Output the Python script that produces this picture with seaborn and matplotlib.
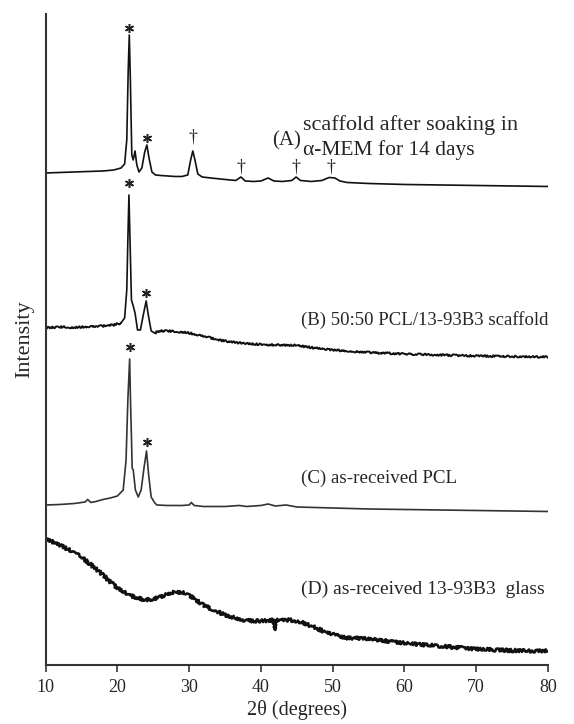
import matplotlib
matplotlib.use("Agg")
import matplotlib.pyplot as plt
import pandas as pd
import seaborn as sns

# XRD patterns, intensities in arbitrary units (already offset for stacking)
two_theta_a = [10, 12, 14, 16, 18, 19.5, 20.5, 21.0, 21.3, 21.5, 21.65, 21.8, 22.0, 22.2,
               22.45, 22.7, 23.0, 23.4, 23.8, 24.1, 24.4, 24.8, 25.3, 26, 27, 28, 29, 29.8,
               30.2, 30.5, 30.8, 31.2, 31.8, 33, 35, 36.5, 37.2, 37.8, 39, 40, 41, 41.8, 43,
               44.3, 44.9, 45.5, 47, 48.5, 49.5, 50.3, 51, 52, 55, 60, 65, 70, 75, 80]
intensity_a = [492, 492.5, 493, 493.5, 494, 495, 497, 501, 525, 595, 630, 585, 510, 505,
               514, 500, 493, 497, 513, 520, 507, 493, 490, 489.5, 489, 488.5, 488.5, 490,
               505, 514, 505, 491, 488, 487, 485.5, 484.5, 488, 484, 483.5, 484, 487, 484, 483.5,
               484.5, 488, 484.5, 483.5, 484.5, 487.5, 487, 484, 482.5, 481.5, 480.5, 480, 479.5, 479, 478.5]

two_theta_b = [10, 12, 14, 16, 18, 19.5, 20.5, 21.0, 21.3, 21.45, 21.6, 21.75, 21.95, 22.2,
               22.45, 22.8, 23.2, 23.6, 24.0, 24.3, 24.7, 25.2, 26, 27, 28, 29, 30, 31, 32, 33,
               34, 35, 36, 37, 38, 40, 42, 44, 45, 46, 48, 50, 55, 60, 65, 70, 75, 80]
intensity_b = [337, 338, 337.5, 338.5, 339, 340, 342, 347, 375, 425, 470, 425, 365, 359,
               352, 335, 335, 350, 364, 350, 334, 332, 334, 334, 333.5, 333, 332, 330.5, 329, 327,
               325, 324, 323, 322, 321.5, 320.5, 320, 319.5, 320, 318.5, 316.5, 315, 312.5, 311, 310, 309, 308.5, 308]

two_theta_c = [10, 12, 14, 15.5, 15.85, 16.3, 17, 18, 19, 20, 20.8, 21.2, 21.45, 21.7, 21.85,
               21.95, 22.05, 22.2, 22.5, 22.9, 23.3, 23.7, 24.05, 24.35, 24.7, 25.2, 25.5, 27, 29,
               30.0, 30.3, 30.7, 32, 35, 37, 38, 40, 41, 42, 43.5, 45, 50, 55, 60, 65, 70, 75, 80]
intensity_c = [160, 160.5, 161.5, 163, 165.5, 162.5, 163.5, 165.5, 167, 169, 175, 205, 265, 306, 255,
               228, 197, 195, 175, 168, 175, 197, 214, 190, 168, 162, 160, 159.5, 159.5,
               160, 162.5, 159.5, 158.5, 158.5, 159.5, 158.5, 159.5, 161, 159, 160, 158, 157, 156, 155.5, 155, 154.5, 154, 153.5]

two_theta_d = [10, 11, 12, 13, 14, 15, 16, 17, 18, 19, 20, 21, 22, 23, 24, 25, 26, 27, 28, 29,
               30, 31, 32, 33, 34, 35, 36, 37, 38, 39, 40, 41, 41.8, 41.9, 42.0, 43, 44, 45, 46,
               47, 48, 49, 50, 51, 52, 55, 58, 60, 62, 65, 68, 70, 73, 75, 78, 80]
intensity_d = [127, 123, 120, 116, 113, 108, 102, 96, 90, 83, 77, 73, 69, 66.5, 65, 66, 68, 71, 73, 72.5,
               70, 65, 60, 56, 53, 50, 48, 46, 44.5, 44, 44, 44.5, 45, 35, 45, 45, 45, 44, 42,
               39, 36, 33, 30.5, 28.5, 27, 26.5, 23.5, 22, 20.5, 19, 17, 16, 15, 14.5, 14, 14.5]

labels = ["(D) as-received 13-93B3  glass", "(C) as-received PCL",
          "(B) 50:50 PCL/13-93B3 scaffold"]
label_y = [76, 187, 345]
label_size = [14, 13.7, 13.5]
label_a_tag = "(A)"
label_a_lines = ["scaffold after soaking in", "\u03b1-MEM for 14 days"]

star_x = [21.65, 24.1, 21.6, 24.0, 21.7, 24.05]
star_y = [637, 527, 482, 372, 318, 223]
dagger_x = [30.5, 37.2, 44.9, 49.8]
dagger_y = [528, 498, 498, 498]

sns.set_style("ticks")
plt.rcParams["font.family"] = ["Liberation Serif", "DejaVu Serif"]

fig = plt.figure(figsize=(5.74, 7.24), dpi=100)
ax = fig.add_axes([0.0796, 0.0815, 0.8751, 0.8992])

# (x, y, linewidth, colour, sketch for noisy baseline, peak window drawn clean)
traces = [
    (two_theta_a, intensity_a, 1.3, "#111111", None, None),
    (two_theta_b, intensity_b, 1.4, "#111111", (0.9, 1.5, 2.0), (20.5, 25.2)),
    (two_theta_c, intensity_c, 1.1, "#333333", None, None),
    (two_theta_d, intensity_d, 1.9, "#111111", (1.6, 2.0, 2.0), None),
]
for tt, inten, lw, col, sketch, clean in traces:
    df = pd.DataFrame({"2theta": tt, "I": inten})
    if clean is None:
        parts = [(df, sketch)]
    else:
        lo, hi = clean
        parts = [(df[df["2theta"] <= lo], sketch),
                 (df[(df["2theta"] >= lo) & (df["2theta"] <= hi)], None),
                 (df[df["2theta"] >= hi], sketch)]
    for part, sk in parts:
        sns.lineplot(data=part, x="2theta", y="I", ax=ax, color=col,
                     linewidth=lw if sk is not None else 1.2,
                     estimator=None, sort=False)
        if sk is not None:
            ax.lines[-1].set_sketch_params(*sk)

ax.plot(star_x, star_y, ls="none", marker=(6, 2, 0), markersize=6.5,
        markeredgewidth=1.1, color="#222222")
for x, y in zip(dagger_x, dagger_y):
    ax.text(x, y, "\u2020", ha="center", va="center", fontsize=13, color="#222222")

for text, y, fs in zip(labels, label_y, label_size):
    ax.text(45.6, y, text, ha="left", va="center", fontsize=fs)
ax.text(41.5, 524, label_a_tag, ha="left", va="center", fontsize=15)
ax.text(45.8, 540, label_a_lines[0], ha="left", va="center", fontsize=16)
ax.text(45.8, 515, label_a_lines[1], ha="left", va="center", fontsize=15.5)

ax.set_xlim(10, 80)
ax.set_ylim(0, 651)
ax.set_xticks(range(10, 81, 10))
ax.set_yticks([])
ax.set_xlabel("2\u03b8 (degrees)", fontsize=14.5, labelpad=3)
ax.set_ylabel("Intensity", fontsize=16, labelpad=8)
ax.tick_params(axis="x", labelsize=13, direction="out", length=5, width=1.2,
               color="#333333", pad=5)
for side in ["top", "right"]:
    ax.spines[side].set_visible(False)
for side in ["left", "bottom"]:
    ax.spines[side].set_linewidth(1.5)
    ax.spines[side].set_color("#333333")

fig.savefig("out.png", dpi=100)
